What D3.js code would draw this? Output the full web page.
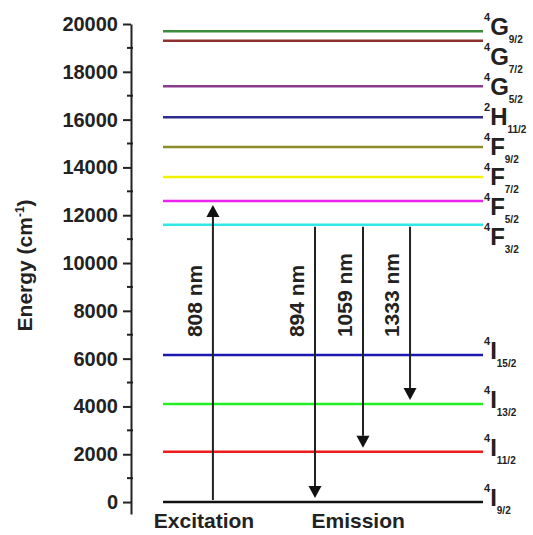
<!DOCTYPE html>
<html>
<head>
<meta charset="utf-8">
<script src="https://cdn.jsdelivr.net/npm/d3@7"></script>
<style>
  body { margin: 0; background: #fff; }
  text { font-family: "Liberation Sans", Arial, sans-serif; font-weight: bold; fill: #222; }
</style>
</head>
<body>
<div id="chart"></div>
<script>
// Energy levels (cm^-1), term symbol split in three parts
const levelEnergy = [0, 2100, 4100, 6150, 11600, 12600, 13600, 14850, 16100, 17400, 19300, 19700];
const levelMult   = ["4", "4", "4", "4", "4", "4", "4", "4", "2", "4", "4", "4"];
const levelTerm   = ["I", "I", "I", "I", "F", "F", "F", "F", "H", "G", "G", "G"];
const levelJ      = ["9/2", "11/2", "13/2", "15/2", "3/2", "5/2", "7/2", "9/2", "11/2", "5/2", "7/2", "9/2"];
const levelColors = ["#111111", "#ee1c1c", "#22ee22", "#1a1ab0", "#30e8e8", "#ee22ee",
                     "#f2f200", "#8c8c2a", "#2c2c8c", "#8c3a8c", "#8c3030", "#3a8c3a"];

// Transitions: column on the x layout (0..1), start and end energy
const transLabels = ["808 nm", "894 nm", "1059 nm", "1333 nm"];
const transColumn = [0.156, 0.475, 0.625, 0.772];
const transFrom   = [0, 11600, 11600, 11600];
const transTo     = [12600, 0, 2100, 4100];

const groupLabels = ["Excitation", "Emission"];
const groupColumn = [0.128, 0.61];

const yTicks = [0, 2000, 4000, 6000, 8000, 10000, 12000, 14000, 16000, 18000, 20000];

const width = 533, height = 535;
const svg = d3.select('#chart').append('svg')
    .attr('width', width)
    .attr('height', height);

svg.append('rect').attr('width', width).attr('height', height).attr('fill', '#fff');

const y = d3.scaleLinear().domain([-500, 20000]).range([514, 24]);
const x = d3.scaleLinear().domain([0, 1]).range([163, 483]);
const axisX = 131;

// y axis
const yAxis = svg.append('g')
    .attr('transform', `translate(${axisX},0)`)
    .call(d3.axisLeft(y).tickValues(yTicks).tickFormat(d3.format('d'))
        .tickSize(8).tickPadding(5).tickSizeOuter(0));
yAxis.select('.domain').attr('stroke', '#222').attr('stroke-width', 2);
yAxis.selectAll('.tick line').attr('stroke', '#222').attr('stroke-width', 2);
yAxis.selectAll('.tick text')
    .style('font-size', '20px')
    .style('font-family', '"Liberation Sans", Arial, sans-serif')
    .style('font-weight', 'bold')
    .attr('fill', '#222');

// minor ticks
const minor = d3.range(1000, 20000, 2000);
svg.append('g').selectAll('line')
    .data(minor)
    .enter()
    .append('line')
    .attr('x1', axisX - 4)
    .attr('x2', axisX + 2)
    .attr('y1', d => y(d))
    .attr('y2', d => y(d))
    .attr('stroke', '#222')
    .attr('stroke-width', 2);

// y label
svg.append('text')
    .attr('transform', `translate(32,${y(9900)}) rotate(-90)`)
    .attr('text-anchor', 'middle')
    .style('font-size', '21px')
    .call(t => {
        t.append('tspan').text('Energy (cm');
        t.append('tspan').attr('dy', -8).style('font-size', '12px').text('-1');
        t.append('tspan').attr('dy', 8).text(')');
    });

// level lines
const levels = levelEnergy.map((e, i) => ({
    energy: e, mult: levelMult[i], term: levelTerm[i], j: levelJ[i], color: levelColors[i]
}));

svg.append('g').selectAll('line')
    .data(levels)
    .enter()
    .append('line')
    .attr('x1', x(0))
    .attr('x2', x(1))
    .attr('y1', d => y(d.energy))
    .attr('y2', d => y(d.energy))
    .attr('stroke', d => d.color)
    .attr('stroke-width', 2.5);

// level labels, pushed down so they don't overlap
const sorted = levels.slice().sort((a, b) => b.energy - a.energy);
let prev = -Infinity;
sorted.forEach(d => {
    d.labelY = Math.max(y(d.energy) + 4, prev + 30);
    prev = d.labelY;
});

const lbl = svg.append('g').selectAll('text')
    .data(sorted)
    .enter()
    .append('text')
    .attr('x', x(1) + 1)
    .attr('y', d => d.labelY);
lbl.append('tspan').attr('dy', -14).style('font-size', '11px').text(d => d.mult);
lbl.append('tspan').attr('dy', 14).style('font-size', '24px').text(d => d.term);
lbl.append('tspan').attr('dy', 8).style('font-size', '10px').text(d => d.j);

// transitions
const trans = transLabels.map((l, i) => ({
    label: l, col: transColumn[i], from: transFrom[i], to: transTo[i]
}));

const head = 12, halfW = 6.5;
const tg = svg.append('g');
trans.forEach(d => {
    const xx = x(d.col);
    const up = d.to > d.from;
    const y0 = y(d.from) + (up ? -2 : 2);
    const tip = y(d.to) + (up ? 4 : -4);
    const base = tip + (up ? head : -head);
    tg.append('line')
        .attr('x1', xx).attr('x2', xx)
        .attr('y1', y0).attr('y2', base)
        .attr('stroke', '#222')
        .attr('stroke-width', 2);
    tg.append('path')
        .attr('d', d3.line()([[xx, tip], [xx - halfW, base], [xx + halfW, base]]) + 'Z')
        .attr('fill', '#111');
    tg.append('text')
        .attr('transform', `translate(${xx - 11},${y(6900)}) rotate(-90)`)
        .attr('text-anchor', 'start')
        .style('font-size', '21px')
        .text(d.label);
});

// group labels
svg.append('g').selectAll('text')
    .data(groupLabels)
    .enter()
    .append('text')
    .attr('x', (d, i) => x(groupColumn[i]))
    .attr('y', 528)
    .attr('text-anchor', 'middle')
    .style('font-size', '21px')
    .text(d => d);
</script>
</body>
</html>
